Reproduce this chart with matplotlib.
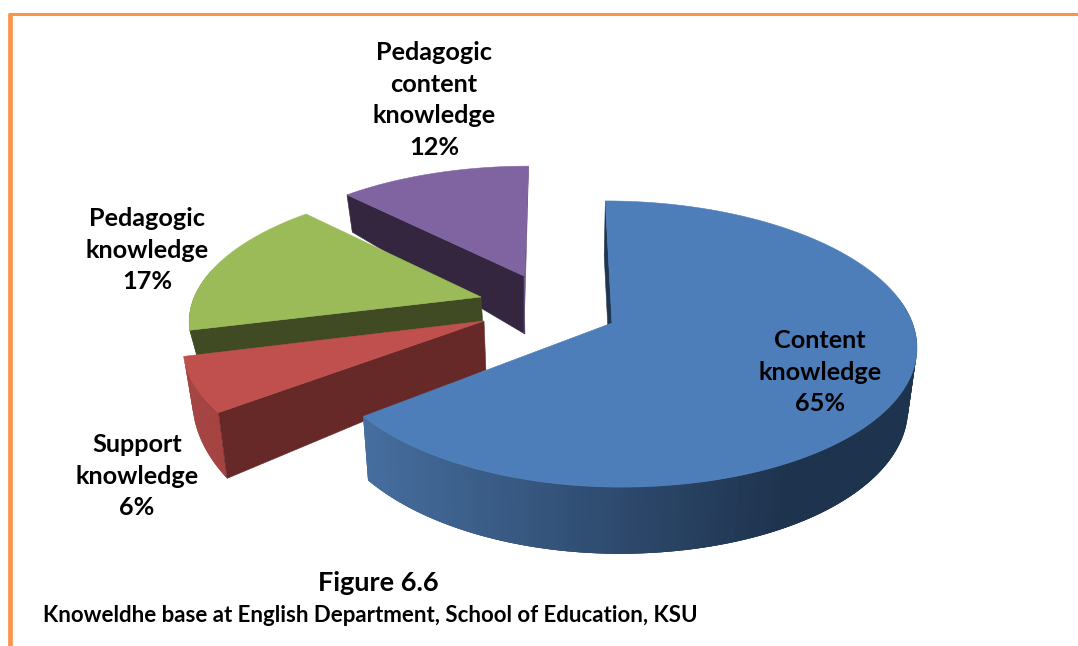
import matplotlib
matplotlib.use('Agg')
import matplotlib.pyplot as plt
import matplotlib.colors as mc
import numpy as np
from matplotlib.collections import PolyCollection
from matplotlib.patches import Polygon

plt.rcParams['font.family'] = ['Lato', 'DejaVu Sans']

# data
labels = ['Content\nknowledge', 'Support\nknowledge', 'Pedagogic\nknowledge', 'Pedagogic\ncontent\nknowledge']
shares = [64.6, 6.4, 16.6, 12.4]

# colours
top_colors = ['#4d7eba', '#c0504d', '#9bbb59', '#8064a2']
cut_colors = ['#1f3550', '#672928', '#404b24', '#35263f']
rim_left = ['#466e9f', '#a54341', '#6f8740', '#5c4875']
rim_right = ['#1e334e', '#a54341', '#6f8740', '#5c4875']

# layout of the exploded pie, in pixels
apex_x = [612, 484, 481, 524]
apex_y = [323, 321, 297, 276]
scale_x = [0.985, 0.97, 0.94, 0.93]
scale_x_left = [0.955, 0.97, 0.94, 0.93]
scale_y = [1.0, 0.98, 0.92, 0.9]
depth = [60, 49, 30, 58]
depth_q = [0.1, 0.42, 0.42, 0.78]
label_x = [820, 137, 147, 434]
label_y = [372, 476, 250, 100]
RX, RY, PERSP = 305, 140, 0.147
VANISH_X = 560
SHRINK = 0.975


def project(i, theta):
    u, v = np.sin(theta), np.cos(theta)
    s = 1 / (1 + PERSP * v)
    sx = np.where(u < 0, scale_x_left[i], scale_x[i])
    x = VANISH_X + (apex_x[i] - VANISH_X) * s + RX * sx * u * s
    y = apex_y[i] - RY * scale_y[i] * v * s
    return x, y


def lower(i, x, y, v):
    # same point on the underside of the slice
    return VANISH_X + (x - VANISH_X) * SHRINK, y + depth[i] / (1 + depth_q[i] * v)


fig = plt.figure(figsize=(10.78, 6.46), dpi=100)
ax = fig.add_axes([0, 0, 1, 1])
ax.set_xlim(0, 1078)
ax.set_ylim(646, 0)
ax.axis('off')

# frame
ax.plot([10, 10], [646, 13.5], color='#f9964a', lw=3.4, solid_capstyle='butt', zorder=1)
ax.plot([8, 1078], [13.5, 13.5], color='#f79646', lw=2.2, solid_capstyle='butt', zorder=1)

ends = np.cumsum(shares) / np.sum(shares) * 2 * np.pi
starts = np.concatenate([[0], ends[:-1]])

# back to front
for z, i in enumerate([3, 2, 1, 0]):
    base = 10 + z * 10
    theta = np.linspace(starts[i], ends[i], 200)
    x, y = project(i, theta)
    xb, yb = lower(i, x, y, np.cos(theta))

    # rim, as thin overlapping strips so it can carry the shading
    quads = []
    cols = []
    c0 = np.array(mc.to_rgb(rim_left[i]))
    c1 = np.array(mc.to_rgb(rim_right[i]))
    for k in range(len(theta) - 1):
        if np.cos(theta[k]) > 0.2:
            continue  # far side of the pie, not seen
        n = min(k + 3, len(theta) - 1)
        quads.append([(x[k], y[k]), (x[n], y[n]), (xb[n], yb[n]), (xb[k], yb[k])])
        t = np.clip((x[k] - 364) / (790 - 364), 0, 1)
        cols.append(c0 + (c1 - c0) * t)
    if quads:
        ax.add_collection(PolyCollection(quads, facecolors=cols, edgecolors='none', zorder=base))

    # cut face, only the first edge of each slice can be seen
    apx, apy = apex_x[i], apex_y[i]
    apxb, apyb = lower(i, apx, apy, 0)
    ax.add_patch(Polygon([(apx, apy), (x[0], y[0]), (xb[0], yb[0]), (apxb, apyb)],
                         closed=True, fc=cut_colors[i], ec=cut_colors[i], lw=0.4, zorder=base + 1))
    if i == 3:
        # thin sliver down the right edge of the purple slice
        ax.add_patch(Polygon([(x[-1], y[-1]), (apx, apy), (apx, apyb)], closed=True,
                             fc='#6a5488', ec='#6a5488', lw=0.4, zorder=base + 1))

    # top
    ax.add_patch(Polygon(np.column_stack([np.r_[apx, x], np.r_[apy, y]]),
                         closed=True, fc=top_colors[i], ec=top_colors[i], lw=0.4, zorder=base + 2))

    ax.text(label_x[i], label_y[i], '%s\n%d%%' % (labels[i], round(shares[i])), ha='center', va='center',
            fontsize=18.2, fontweight='bold', color='black', linespacing=1.47, zorder=60)

ax.text(378, 583, 'Figure 6.6', ha='center', va='center', fontsize=19.5, fontweight='bold', color='black')
ax.text(370, 615, 'Knoweldhe base at English Department, School of Education, KSU',
        ha='center', va='center', fontsize=16, fontweight='bold', color='black')

fig.savefig('out.png', dpi=100)
